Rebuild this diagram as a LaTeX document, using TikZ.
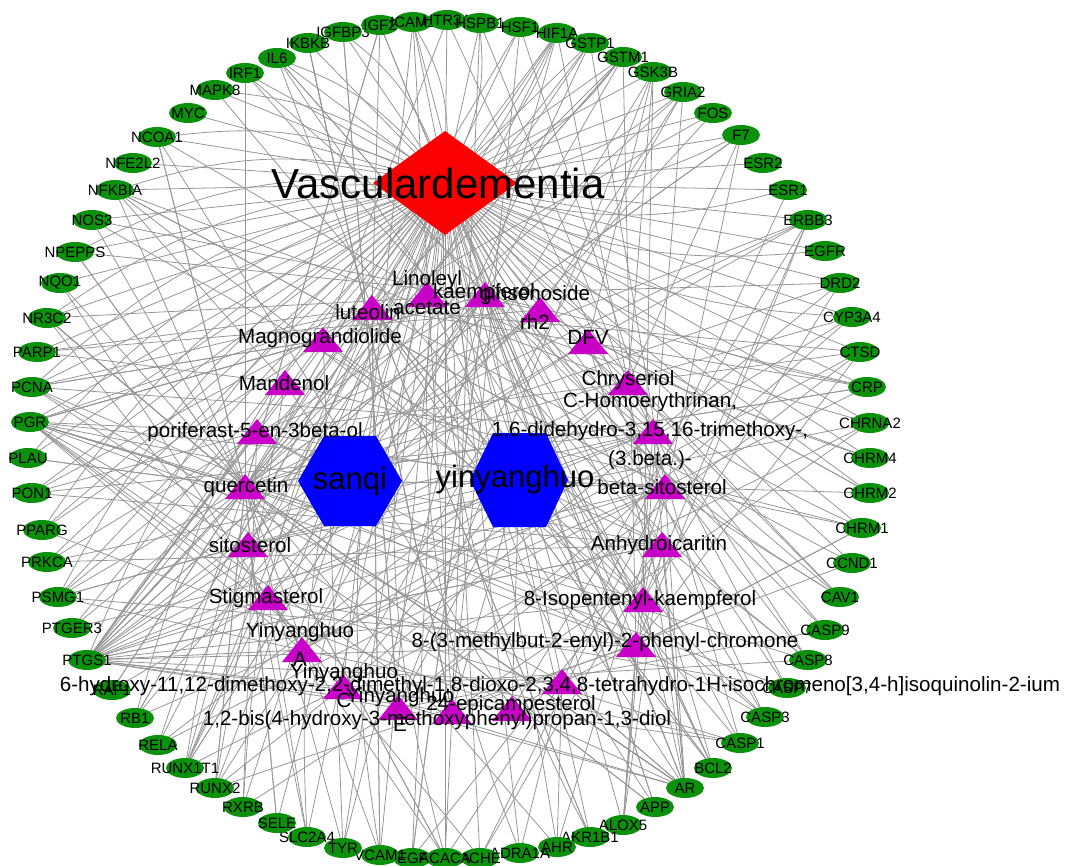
\documentclass[tikz,border=0pt]{standalone}
\usepackage{fontspec}
\setmainfont{Liberation Sans}
\usetikzlibrary{shapes.geometric}
\pgfdeclarelayer{bg}
\pgfsetlayers{bg,main}
\definecolor{genegreen}{RGB}{12,145,12}
\definecolor{trimag}{RGB}{200,0,200}
\definecolor{hexblue}{RGB}{0,0,255}
\definecolor{dred}{RGB}{250,0,0}
\definecolor{edgegray}{RGB}{150,150,150}
\tikzset{
 gene/.style={ellipse, fill=genegreen, minimum width=38pt, minimum height=20pt, inner sep=0pt, outer sep=0pt},
 glabel/.style={font=\fontsize{15}{18}\selectfont, inner sep=0pt},
 clabel/.style={font=\fontsize{20.6}{29}\selectfont, inner sep=0pt, align=center},
 edge/.style={draw=edgegray, line width=0.8pt},
 hexnode/.style={regular polygon, regular polygon sides=6, fill=hexblue, inner sep=0pt, outer sep=0pt},
}
\begin{document}
\begin{tikzpicture}[x=1pt,y=-1pt]
\useasboundingbox (0,0) rectangle (1075,865);
% central nodes
\node[diamond, fill=dred, minimum width=144pt, minimum height=104pt, inner sep=0pt, outer sep=0pt] (D) at (445,183) {};
\node[hexnode, minimum size=104pt] (S) at (350,481) {};
\coordinate (Y) at (519,480);
\fill[hexblue] (470,480) -- (493,433) -- (546,433) -- (568,480) -- (546,527) -- (493,527) -- cycle;
% targets (drawn in descending order)
\foreach \i/\x/\y/\nm in {74/412/858/VEGFA, 73/380/855/VCAM1, 72/343/848/TYR, 71/307/837/SLC2A4, 70/277/823/SELE, 69/243/807/RXRB, 68/215/788/RUNX2, 67/185/768/RUNX1T1, 66/158/745/RELA, 65/135/718/RB1, 64/112/690/RAF1, 63/87/660/PTGS1, 62/72/628/PTGER3, 61/58/597/PSMG1, 60/47/562/PRKCA, 59/42/530/PPARG, 58/32/493/PON1, 57/28/458/PLAU, 56/30/422/PGR, 55/32/387/PCNA, 54/37/352/PARP1, 53/47/318/NR3C2, 52/60/283/NQO1, 51/75/252/NPEPPS, 50/92/220/NOS3, 49/115/190/NFKBIA, 48/133/163/NFE2L2, 47/157/137/NCOA1, 46/188/113/MYC, 45/215/90/MAPK8, 44/245/73/IRF1, 43/277/58/IL6, 42/308/43/IKBKB, 41/343/32/IGFBP3, 40/380/25/IGF2, 39/413/22/ICAM1, 38/447/20/HTR3A, 37/480/23/HSPB1, 36/520/27/HSF1, 35/557/33/HIF1A, 34/590/43/GSTP1, 33/623/57/GSTM1, 32/653/72/GSK3B, 31/683/92/GRIA2, 30/713/113/FOS, 29/741/135/F7, 28/763/163/ESR2, 27/788/190/ESR1, 26/808/220/ERBB3, 25/825/251/EGFR, 24/840/283/DRD2, 23/852/317/CYP3A4, 22/860/352/CTSD, 21/867/387/CRP, 20/870/423/CHRNA2, 19/870/458/CHRM4, 18/870/493/CHRM2, 17/862/528/CHRM1, 16/852/563/CCND1, 15/840/597/CAV1, 14/825/630/CASP9, 13/808/660/CASP8, 12/787/688/CASP7, 11/765/717/CASP3, 10/740/743/CASP1, 9/713/768/BCL2, 8/685/788/AR, 7/655/807/APP, 6/623/825/ALOX5, 5/590/837/AKR1B1, 4/557/847/AHR, 3/520/853/ADRA1A, 2/480/858/ACHE, 1/445/858/ACACA} {
  \node[gene] (t\i) at (\x,\y) {};
  \node[glabel] (tl\i) at (\x,\y) {\nm};
}
% compounds (triangles)
\foreach \i/\x/\y in {1/372/308, 2/427/295, 3/485/295, 4/540/310, 5/323/340, 6/588/342, 7/285/383, 8/628/383, 9/257/432, 10/245/487, 11/248/545, 12/268/598, 13/653/432, 14/665/487, 15/662/545, 16/643/600, 17/302/650, 18/343/687, 19/562/682, 20/398/708, 21/452/712, 22/512/709, 23/636/645} {
  \coordinate (c\i) at (\x,\y);
  \fill[trimag, shift={(\x,\y)}] (-20,12) -- (20,12) -- (0,-13) -- cycle;
}
% labels of central nodes
\node[font=\fontsize{42}{50}\selectfont, inner sep=0pt] (Dl) at (438,183) {Vasculardementia};
\node[font=\fontsize{31}{36}\selectfont, inner sep=0pt] (Sl) at (350,481) {sanqi};
\node[font=\fontsize{31}{36}\selectfont, inner sep=0pt] (Yl) at (515,479) {yinyanghuo};
% compound labels
\node[clabel] (cl1) at (368,312) {luteolin};
\node[clabel] (cl2) at (427,293) {Linoleyl\\acetate};
\node[clabel] (cl3) at (484,293) {kaempferol};
\node[clabel] (cl4) at (535,308) {ginsenoside\\rh2};
\node[clabel] (cl5) at (320,338) {Magnograndiolide};
\node[clabel] (cl6) at (588,337) {DFV};
\node[clabel] (cl7) at (284,383) {Mandenol};
\node[clabel] (cl8) at (628,380) {Chryseriol};
\node[clabel] (cl9) at (255,432) {poriferast-5-en-3beta-ol};
\node[clabel] (cl10) at (246,487) {quercetin};
\node[clabel] (cl11) at (250,545) {sitosterol};
\node[clabel] (cl12) at (266,598) {Stigmasterol};
\node[clabel] (cl13) at (650,431) {C-Homoerythrinan,\\1,6-didehydro-3,15,16-trimethoxy-,\\(3.beta.)-};
\node[clabel] (cl14) at (662,487) {beta-sitosterol};
\node[clabel] (cl15) at (659,545) {Anhydroicaritin};
\node[clabel] (cl16) at (640,600) {8-Isopentenyl-kaempferol};
\node[clabel] (cl17) at (300,645) {Yinyanghuo\\A};
\node[clabel] (cl18) at (344,686) {Yinyanghuo\\C};
\node[clabel] (cl19) at (560,686) {6-hydroxy-11,12-dimethoxy-2,2-dimethyl-1,8-dioxo-2,3,4,8-tetrahydro-1H-isochromeno[3,4-h]isoquinolin-2-ium};
\node[clabel] (cl20) at (400,710) {Yinyanghuo\\E};
\node[clabel] (cl21) at (437,720) {1,2-bis(4-hydroxy-3-methoxyphenyl)propan-1,3-diol};
\node[clabel] (cl22) at (511,705) {24-epicampesterol};
\node[clabel] (cl23) at (605,642) {8-(3-methylbut-2-enyl)-2-phenyl-chromone};
% edges
\begin{pgfonlayer}{bg}
\foreach \i in {1,...,74} { \draw[edge] (D) -- (t\i); }
\foreach \i in {1,3,...,73} { \draw[edge] (D) to[bend right=14] (t\i); }
\foreach \c in {3,4,6,7,9,10,11,12,14} { \draw[edge] (S) -- (c\c); }
\foreach \c in {1,2,3,5,8,9,10,11,12,13,14,15,16,17,18,19,20,21,22,23} { \draw[edge] (Y) -- (c\c); }
\foreach \c in {1,...,23} { \draw[edge] (c\c) -- (t63); }
\foreach \c in {1,3,5,9,10,11,12,14,15,16,17,20,21,23} { \draw[edge] (c\c) -- (t56); }
\foreach \c in {1,3,8,10,13,14,15,16,18,19,22} { \draw[edge] (c\c) -- (t8); }
\pgfmathsetseed{4242}
\foreach \c/\d in {1/20,2/4,3/22,4/5,5/5,6/6,7/4,8/8,9/6,10/52,11/6,12/9,13/8,14/13,15/9,16/9,17/8,18/8,19/6,20/8,21/9,22/5,23/9} {
  \foreach \n in {1,...,\d} {
    \pgfmathrandominteger{\j}{1}{74}
    \draw[edge] (c\c) -- (t\j);
  }
}
\end{pgfonlayer}
\end{tikzpicture}
\end{document}
